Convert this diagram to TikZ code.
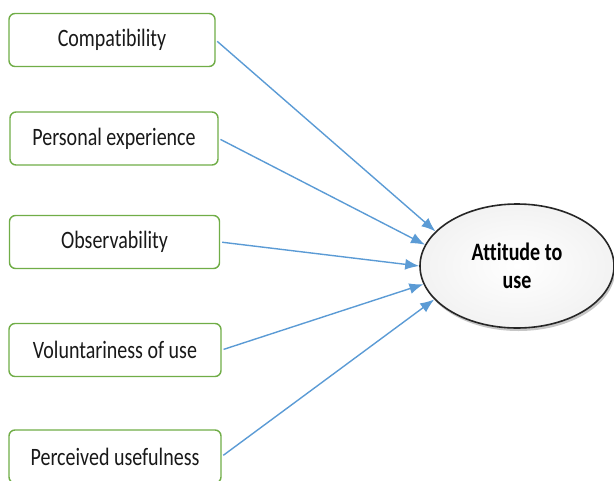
\documentclass[tikz,border=0pt]{standalone}
\usepackage{fontspec}
\setmainfont{Carlito}[FakeStretch=0.8, Ligatures=NoCommon]
\usepackage{tikz}
\usetikzlibrary{shapes.geometric, arrows.meta, shadows}
\definecolor{boxgreen}{HTML}{70AD47}
\definecolor{arrowblue}{HTML}{5B9BD5}
\tikzstyle{factor} = [rectangle, draw=boxgreen, line width=1.4pt, rounded corners=6pt, text centered, minimum height=53pt, fill=white, text=black!90]
\tikzstyle{outcome} = [ellipse, draw=black!85, line width=1.6pt, text centered, align=center, minimum width=194pt, minimum height=124pt, inner sep=0pt, inner color=white, outer color=black!5, drop shadow={shadow xshift=1.5pt, shadow yshift=-3pt, opacity=0.45}, font=\fontsize{25}{28}\selectfont\bfseries]
\tikzstyle{connector} = [draw=arrowblue, line width=1.4pt, -{Latex[length=14pt, width=11pt]}, shorten <=2pt]

\begin{document}
\begin{tikzpicture}[x=1pt, y=-1pt, font=\fontsize{25}{28}\selectfont]
        \clip (0,0) rectangle (614,480);

        \node [factor, minimum width=206pt] at (112,40) (compat) {Compatibility};

        \node [factor, minimum width=208pt] at (114,138.5) (persexp) {Personal experience};

        \node [factor, minimum width=210pt] at (114.5,242) (observ) {Observability};

        \node [factor, minimum width=212pt] at (115,350) (volunt) {Voluntariness of use};

        \node [factor, minimum width=212pt] at (115,456.5) (useful) {Perceived usefulness};

        \node [outcome] at (517,266) (attitude) {Attitude to\\use};

        \path [connector] (compat.east) -- (attitude.157);
        \path [connector] (persexp.east) -- (attitude.167);
        \path [connector] (observ.east) -- (attitude.180);
        \path [connector] (volunt.east) -- (attitude.191);
        \path [connector] (useful.east) -- (attitude.202);
    \end{tikzpicture}
\end{document}
